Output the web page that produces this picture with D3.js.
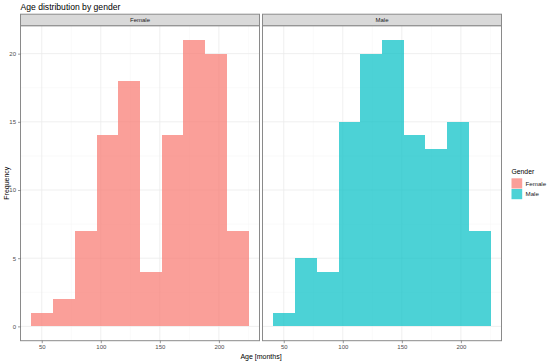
<!DOCTYPE html>
<html>
<head>
<meta charset="utf-8">
<script src="https://cdn.jsdelivr.net/npm/d3@7"></script>
<style>
  body { margin: 0; background: #fff; }
  svg { font-family: "Liberation Sans", Arial, sans-serif; }
</style>
</head>
<body>
<div id="chart"></div>
<script>
// histogram bins (months) and counts
const binEdges = [41.2, 59.6, 78.0, 96.4, 114.8, 133.2, 151.6, 170.0, 188.4, 206.8, 225.2];
const femaleCounts = [1, 2, 7, 14, 18, 4, 14, 21, 20, 7];
const maleCounts = [1, 5, 4, 15, 20, 21, 14, 13, 15, 7];
const genders = ['Female', 'Male'];
const xTicks = [50, 100, 150, 200];
const xMinor = [75, 125, 175, 225];
const yTicks = [0, 5, 10, 15, 20];
const yMinor = [2.5, 7.5, 12.5, 17.5];

const COLORS = { Female: '#F8766D', Male: '#00BFC4' };
const series = { Female: femaleCounts, Male: maleCounts };

const W = 550, H = 362;
const panelTop = 25.7, panelH = 315, panelW = 239;
const panelLeft = [20.5, 262.5];
const stripH = 11.5;

const svg = d3.select('#chart').append('svg').attr('width', W).attr('height', H);

// ggplot-like 5% expansion
const xr = binEdges[binEdges.length - 1] - binEdges[0];
const x = d3.scaleLinear()
  .domain([binEdges[0] - xr * 0.05, binEdges[binEdges.length - 1] + xr * 0.05])
  .range([0, panelW]);
const ymax = d3.max([...femaleCounts, ...maleCounts]);
const y = d3.scaleLinear().domain([-ymax * 0.05, ymax * 1.05]).range([panelH, 0]);

svg.append('text').attr('x', 20.5).attr('y', 10).attr('font-size', 8.6).attr('fill', '#000')
  .text('Age distribution by gender');

genders.forEach((g, i) => {
  const p = svg.append('g').attr('transform', `translate(${panelLeft[i]},${panelTop})`);

  // grid
  p.selectAll('.ym').data(yMinor).enter().append('line')
    .attr('x1', 0).attr('x2', panelW).attr('y1', d => y(d)).attr('y2', d => y(d))
    .attr('stroke', '#f4f4f4').attr('stroke-width', 0.5);
  p.selectAll('.xm').data(xMinor).enter().append('line')
    .attr('y1', 0).attr('y2', panelH).attr('x1', d => x(d)).attr('x2', d => x(d))
    .attr('stroke', '#f4f4f4').attr('stroke-width', 0.5);
  p.selectAll('.yg').data(yTicks).enter().append('line')
    .attr('x1', 0).attr('x2', panelW).attr('y1', d => y(d)).attr('y2', d => y(d))
    .attr('stroke', '#ebebeb').attr('stroke-width', 0.8);
  p.selectAll('.xg').data(xTicks).enter().append('line')
    .attr('y1', 0).attr('y2', panelH).attr('x1', d => x(d)).attr('x2', d => x(d))
    .attr('stroke', '#ebebeb').attr('stroke-width', 0.8);

  // bars
  p.selectAll('rect.bar').data(series[g]).enter().append('rect').attr('class', 'bar')
    .attr('x', (d, j) => x(binEdges[j]))
    .attr('width', (d, j) => x(binEdges[j + 1]) - x(binEdges[j]))
    .attr('y', d => y(d))
    .attr('height', d => y(0) - y(d))
    .attr('fill', COLORS[g]).attr('fill-opacity', 0.7)
    .attr('shape-rendering', 'crispEdges');

  // border
  p.append('rect').attr('width', panelW).attr('height', panelH)
    .attr('fill', 'none').attr('stroke', '#8a8a8a').attr('stroke-width', 1);

  // strip
  p.append('rect').attr('y', -stripH).attr('width', panelW).attr('height', stripH)
    .attr('fill', '#d9d9d9').attr('stroke', '#8a8a8a').attr('stroke-width', 1);
  p.append('text').attr('x', panelW / 2).attr('y', -stripH / 2).attr('dy', '0.35em')
    .attr('text-anchor', 'middle').attr('font-size', 6).attr('fill', '#1a1a1a').text(g);

  // x axis
  const xa = p.append('g').attr('transform', `translate(0,${panelH})`)
    .call(d3.axisBottom(x).tickValues(xTicks).tickSize(2.5).tickPadding(2));
  xa.select('.domain').remove();
  xa.selectAll('line').attr('stroke', '#555').attr('stroke-width', 0.6);
  xa.selectAll('text').attr('font-size', 6).attr('fill', '#4d4d4d')
    .attr('font-family', '"Liberation Sans", Arial, sans-serif');

  if (i === 0) {
    const ya = p.append('g')
      .call(d3.axisLeft(y).tickValues(yTicks).tickSize(2.5).tickPadding(2));
    ya.select('.domain').remove();
    ya.selectAll('line').attr('stroke', '#555').attr('stroke-width', 0.6);
    ya.selectAll('text').attr('font-size', 6).attr('fill', '#4d4d4d')
      .attr('font-family', '"Liberation Sans", Arial, sans-serif');
  }
});

// axis titles
svg.append('text').attr('x', (panelLeft[0] + panelLeft[1] + panelW) / 2).attr('y', 358.5)
  .attr('text-anchor', 'middle').attr('font-size', 7).attr('fill', '#000').text('Age [months]');
svg.append('text')
  .attr('transform', `translate(8.5,${panelTop + panelH / 2}) rotate(-90)`)
  .attr('text-anchor', 'middle').attr('font-size', 7).attr('fill', '#000').text('Frequency');

// legend
const lg = svg.append('g').attr('transform', 'translate(511.5,0)');
lg.append('text').attr('x', 0).attr('y', 173.5).attr('font-size', 6.8).attr('fill', '#000').text('Gender');
genders.forEach((g, i) => {
  lg.append('rect').attr('x', 0).attr('y', 178.3 + i * 10.7).attr('width', 10.7).attr('height', 10.2)
    .attr('fill', COLORS[g]).attr('fill-opacity', 0.7);
  lg.append('text').attr('x', 14).attr('y', 183.6 + i * 10.7).attr('dy', '0.35em')
    .attr('font-size', 6.2).attr('fill', '#1a1a1a').text(g);
});
</script>
</body>
</html>
